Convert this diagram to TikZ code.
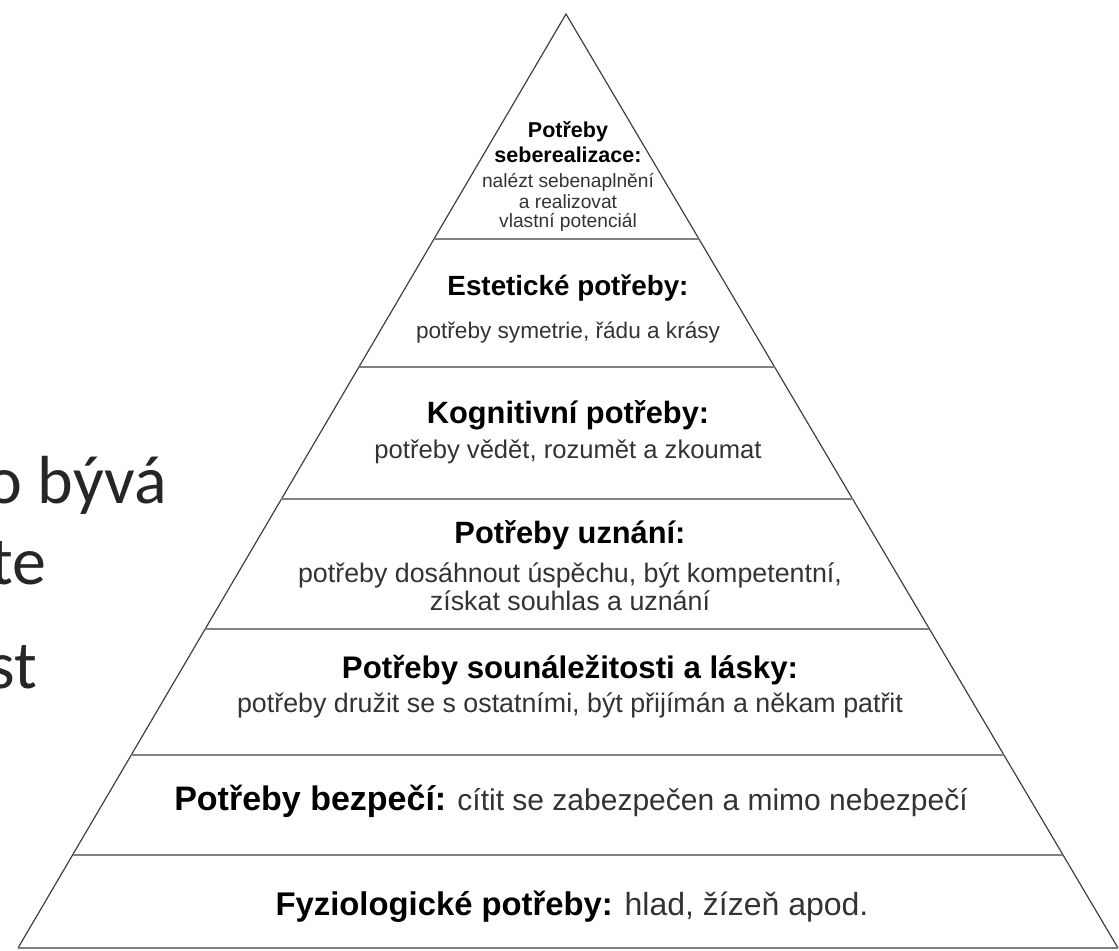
\documentclass[tikz,border=0pt]{standalone}
\usepackage{fontspec}
\setmainfont{Liberation Sans}
\newfontfamily\slidefont{Carlito}
\usetikzlibrary{calc}

\newcommand{\pyrfont}[1]{\fontsize{#1}{#1}\selectfont}

\tikzset{
  edge/.style={black!75, line width=0.6pt},
  sep/.style={black!50, line width=1.3pt},
  lbl/.style={anchor=mid, inner sep=0pt},
  headtxt/.style={lbl, text=black, font=\bfseries\pyrfont{#1}},
  bodytxt/.style={lbl, text=black!80, font=\pyrfont{#1}},
  slide/.style={anchor=base east, inner sep=0pt, text=black!85,
    font=\slidefont\pyrfont{34}}
}

\begin{document}
\begin{tikzpicture}[x=0.5pt,y=-0.5pt]
  \useasboundingbox (0,0) rectangle (1119,950);

  % slide text cut off on the left
  \node[slide] (bv) at (167,503) {o bývá};
  \node[slide] (te) at (47,584) {te};
  \node[slide] (st) at (38,688) {st};

  % pyramid
  \coordinate (apex) at (566,14);
  \coordinate (bl) at (18,948);
  \coordinate (br) at (1118,948);
  \draw[edge] (bl) -- (apex) -- (br);
  \draw[sep] (bl) -- (br);
  \foreach \t in {0.2409,0.3779,0.5193,0.6585,0.7934,0.9004}
    \draw[sep] ($(apex)!\t!(bl)$) -- ($(apex)!\t!(br)$);

  % level 1
  \node[headtxt=10.75] (self1) at (568,132) {Potřeby};
  \node[headtxt=10.75] (self2) at (568,157) {seberealizace:};
  \node[bodytxt=9.6] (self3) at (568,182) {nalézt sebenaplnění};
  \node[bodytxt=9.6] (self4) at (568,203) {a realizovat};
  \node[bodytxt=9.6] (self5) at (568,222) {vlastní potenciál};

  % level 2
  \node[headtxt=13.9] (aest1) at (568,290) {Estetické potřeby:};
  \node[bodytxt=11.3] (aest2) at (568,333) {potřeby symetrie, řádu a krásy};

  % level 3
  \node[headtxt=15.4] (cogn1) at (568,418) {Kognitivní potřeby:};
  \node[bodytxt=12.8] (cogn2) at (568,453) {potřeby vědět, rozumět a zkoumat};

  % level 4
  \node[headtxt=15.4] (este1) at (570,538) {Potřeby uznání:};
  \node[bodytxt=13.4] (este2) at (570,577) {potřeby dosáhnout úspěchu, být kompetentní,};
  \node[bodytxt=13.4] (este3) at (570,605) {získat souhlas a uznání};

  % level 5
  \node[headtxt=15.6] (love1) at (570,673) {Potřeby sounáležitosti a lásky:};
  \node[bodytxt=13.4] (love2) at (570,707) {potřeby družit se s ostatními, být přijímán a někam patřit};

  % level 6
  \node[bodytxt=15] (safe) at (571,805)
    {{\bfseries\color{black}\pyrfont{17}Potřeby bezpečí:} cítit se zabezpečen a mimo nebezpečí};

  % level 7
  \node[bodytxt=16] (phys) at (572,910)
    {{\bfseries\color{black}\pyrfont{16.4}Fyziologické potřeby:} hlad, žízeň apod.};
\end{tikzpicture}
\end{document}
